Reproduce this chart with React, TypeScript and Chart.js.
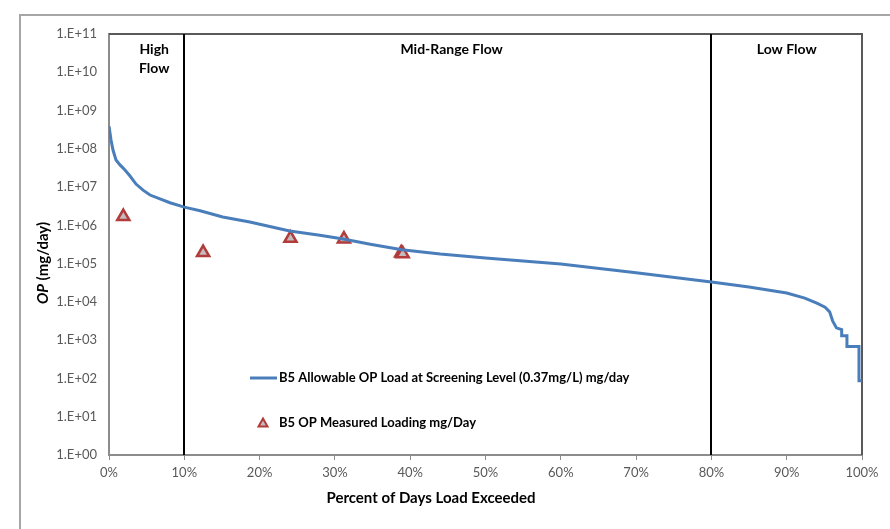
import React, { useEffect, useRef } from "react";
import { Chart, registerables } from "chart.js";

Chart.register(...registerables);

// Load duration curve: percent of days exceeded vs allowable load (mg/day)
const curvePct = [0, 0.27, 0.53, 0.93, 1.46, 2.12, 2.79, 3.59, 4.52, 5.45, 6.77, 8.1, 10, 12.1, 15.1, 18.7, 24, 28, 31.1, 34.7, 38.9, 44, 50, 60, 70, 80, 85, 90, 92.4, 94, 95.1, 95.7, 96.1, 96.6, 97.3, 97.3, 98.0, 98.0, 99.6, 99.6, 100];
const curveLoad = [3.9e8, 1.7e8, 9.3e7, 5.1e7, 3.8e7, 2.8e7, 1.95e7, 1.2e7, 8.3e6, 6.2e6, 4.9e6, 3.9e6, 3.0e6, 2.4e6, 1.66e6, 1.23e6, 7.1e5, 5.5e5, 4.4e5, 3.2e5, 2.3e5, 1.78e5, 1.4e5, 9.8e4, 5.8e4, 3.3e4, 2.45e4, 1.7e4, 1.26e4, 9.3e3, 7.3e3, 5.5e3, 3.2e3, 2.1e3, 1.9e3, 1.3e3, 1.3e3, 680, 680, 87, 87];

// Measured loadings
const measuredPct = [1.9, 12.5, 24.1, 31.2, 38.8, 39.0];
const measuredLoad = [1.7e6, 1.95e5, 4.6e5, 4.4e5, 1.9e5, 1.8e5];

const curveLabel = "B5 Allowable OP Load at Screening Level (0.37mg/L) mg/day";
const measuredLabel = "B5 OP Measured Loading mg/Day";

const xTicks = [0, 10, 20, 30, 40, 50, 60, 70, 80, 90, 100];
const yTickExponents = [0, 1, 2, 3, 4, 5, 6, 7, 8, 9, 10, 11];

const flowBreaks = [10, 80];
const flowLabels = [
  { lines: ["High", "Flow"], pct: 6 },
  { lines: ["Mid-Range Flow"], pct: 45.5 },
  { lines: ["Low Flow"], pct: 90 },
];

const FONT = "Lato, 'Open Sans', sans-serif";

const overlay = {
  id: "overlay",
  beforeDraw(chart: any) {
    const { ctx } = chart;
    ctx.save();
    ctx.fillStyle = "#ffffff";
    ctx.fillRect(0, 0, chart.width, chart.height);
    ctx.strokeStyle = "#a6a6a6";
    ctx.lineWidth = 2;
    ctx.strokeRect(20, 15, chart.width + 40, chart.height + 40);
    ctx.restore();
  },
  beforeDatasetsDraw(chart: any) {
    const { ctx, chartArea } = chart;
    const xs = chart.scales.x;
    ctx.save();
    // plot border top/right
    ctx.strokeStyle = "#595959";
    ctx.lineWidth = 2;
    ctx.beginPath();
    ctx.moveTo(chartArea.left, chartArea.top);
    ctx.lineTo(chartArea.right, chartArea.top);
    ctx.lineTo(chartArea.right, chartArea.bottom);
    ctx.stroke();
    // flow region breaks
    ctx.strokeStyle = "#000000";
    ctx.lineWidth = 2;
    flowBreaks.forEach((b) => {
      const x = Math.round(xs.getPixelForValue(b));
      ctx.beginPath();
      ctx.moveTo(x, chartArea.top);
      ctx.lineTo(x, chartArea.bottom);
      ctx.stroke();
    });
    // flow labels
    ctx.fillStyle = "#000000";
    ctx.font = `bold 14px ${FONT}`;
    ctx.textAlign = "center";
    ctx.textBaseline = "middle";
    flowLabels.forEach((f) => {
      const x = xs.getPixelForValue(f.pct);
      f.lines.forEach((ln, i) => {
        ctx.fillText(ln, x, chartArea.top + 15 + i * 19);
      });
    });
    ctx.restore();
  },
  afterDraw(chart: any) {
    const { ctx } = chart;
    const ds = chart.data.datasets;
    ctx.save();
    // legend
    ctx.font = `bold 13px ${FONT}`;
    ctx.textAlign = "left";
    ctx.textBaseline = "middle";
    ctx.fillStyle = "#000000";
    const lx = 250;
    const ly1 = 378;
    const ly2 = 423;
    ctx.strokeStyle = ds[0].borderColor;
    ctx.lineWidth = 3;
    ctx.beginPath();
    ctx.moveTo(lx, ly1);
    ctx.lineTo(lx + 27, ly1);
    ctx.stroke();
    ctx.fillText(ds[0].label, lx + 29, ly1);
    // triangle marker
    const tx = lx + 13;
    const r = 4.5;
    ctx.fillStyle = ds[1].pointBackgroundColor;
    ctx.strokeStyle = ds[1].pointBorderColor;
    ctx.lineWidth = 2;
    ctx.beginPath();
    ctx.moveTo(tx, ly2 - r);
    ctx.lineTo(tx + r, ly2 + r * 0.8);
    ctx.lineTo(tx - r, ly2 + r * 0.8);
    ctx.closePath();
    ctx.fill();
    ctx.stroke();
    ctx.fillStyle = "#000000";
    ctx.fillText(ds[1].label, lx + 29, ly2);

    // x title
    ctx.font = `bold 15px ${FONT}`;
    ctx.textAlign = "center";
    ctx.fillText("Percent of Days Load Exceeded", 431, 498);

    // y title (OP italic)
    ctx.translate(43, 263);
    ctx.rotate(-Math.PI / 2);
    const f1 = `italic bold 15px ${FONT}`;
    const f2 = `bold 15px ${FONT}`;
    ctx.font = f1;
    const w1 = ctx.measureText("OP").width;
    ctx.font = f2;
    const w2 = ctx.measureText(" (mg/day)").width;
    const start = -(w1 + w2) / 2;
    ctx.textAlign = "left";
    ctx.font = f1;
    ctx.fillText("OP", start, 0);
    ctx.font = f2;
    ctx.fillText(" (mg/day)", start + w1, 0);
    ctx.restore();
  },
};

export default function App() {
  const ref = useRef<HTMLCanvasElement | null>(null);
  useEffect(() => {
    document.body.style.margin = "0";
    const canvas = ref.current!;
    const chart = new Chart(canvas, {
      type: "line",
      data: {
        datasets: [
          {
            label: curveLabel,
            data: curvePct.map((p, i) => ({ x: p, y: curveLoad[i] })),
            borderColor: "#4a7ebb",
            borderWidth: 3,
            pointRadius: 0,
            fill: false,
            tension: 0,
          },
          {
            label: measuredLabel,
            data: measuredPct.map((p, i) => ({ x: p, y: measuredLoad[i] })),
            showLine: false,
            pointStyle: "triangle",
            pointRadius: 7,
            pointBackgroundColor: "#c4bcbc",
            pointBorderColor: "#b23b3b",
            pointBorderWidth: 2.5,
          } as any,
        ],
      },
      options: {
        animation: false,
        responsive: false,
        devicePixelRatio: 1,
        layout: { padding: { left: 0, right: 28, top: 34, bottom: 0 } },
        plugins: {
          legend: { display: false },
          tooltip: { enabled: false },
        },
        scales: {
          x: {
            type: "linear",
            min: 0,
            max: 100,
            afterBuildTicks: (s: any) => {
              s.ticks = xTicks.map((v) => ({ value: v }));
            },
            afterFit: (s: any) => {
              s.height = 74;
            },
            ticks: {
              callback: (v: any) => `${v}%`,
              color: "#595959",
              font: { family: FONT, size: 13 },
              padding: 5,
              maxRotation: 0,
              autoSkip: false,
            },
            grid: {
              display: true,
              drawOnChartArea: false,
              drawTicks: true,
              tickLength: 5,
              color: "#8c8c8c",
            },
            border: { display: true, color: "#8c8c8c", width: 2 },
          },
          y: {
            type: "logarithmic",
            min: 1,
            max: 1e11,
            afterBuildTicks: (s: any) => {
              s.ticks = yTickExponents.map((e) => ({ value: Math.pow(10, e) }));
            },
            afterFit: (s: any) => {
              s.width = 109;
            },
            ticks: {
              callback: (v: any) => {
                const e = Math.round(Math.log10(Number(v)));
                return `1.E+${String(e).padStart(2, "0")}`;
              },
              color: "#595959",
              font: { family: FONT, size: 13 },
              padding: 12,
              autoSkip: false,
            },
            grid: { display: false, drawTicks: false },
            border: { display: true, color: "#8c8c8c", width: 2 },
          },
        },
      },
      plugins: [overlay],
    });
    return () => chart.destroy();
  }, []);
  return <canvas ref={ref} width={890} height={529} style={{ display: "block", width: 890, height: 529 }} />;
}
